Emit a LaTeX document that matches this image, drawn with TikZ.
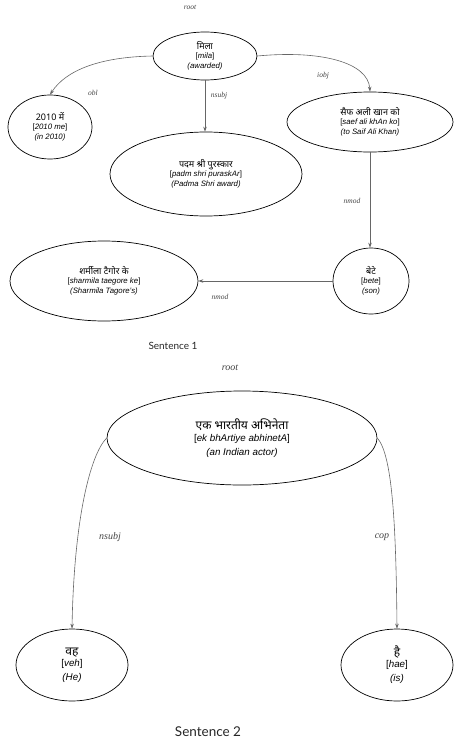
\documentclass[tikz,border=0pt]{standalone}
\usepackage{fontspec}
\setmainfont{Liberation Sans}
\newfontfamily\deva[Script=Devanagari]{Noto Sans}
\newfontfamily\tms{Liberation Serif}
\newfontfamily\lato{Lato}
\usetikzlibrary{arrows.meta,shapes.geometric}
\definecolor{edgegray}{HTML}{666666}
\definecolor{labgray}{HTML}{444444}
\tikzset{
  ell/.style={draw=black, line width=0.7pt, ellipse, inner sep=0pt, align=center},
  small/.style={font=\fontsize{7.8}{10.5}\selectfont},
  big/.style={font=\fontsize{9.8}{14}\selectfont},
  arr/.style={draw=edgegray, line width=0.6pt, -{Stealth[length=5pt,width=3.5pt]}},
  rel/.style={text=labgray, font=\tms\itshape\fontsize{7.5}{8}\selectfont, inner sep=0pt},
  relbig/.style={text=labgray, font=\tms\itshape\fontsize{10}{11}\selectfont, inner sep=0pt},
  dsmall/.style={},
}
\newcommand{\dvs}{\deva\fontsize{9}{11}\selectfont}
\newcommand{\dvb}{\deva\fontsize{12}{15}\selectfont}
\begin{document}
\begin{tikzpicture}[x=1pt,y=-1pt]
\useasboundingbox (0,0) rectangle (457,744);
% Sentence 1
\node[rel] (root1) at (190,7) {root};
\node[ell,small,minimum width=104pt,minimum height=48pt] (mila) at (205,56)
  {{\dvs मिला}\\[-2pt][\textit{mila}]\\\textit{(awarded)}};
\node[ell,small,minimum width=84pt,minimum height=64pt] (n2010) at (50,127)
  {{\dvs 2010 में}\\[-2pt][\textit{2010 me}]\\\textit{(in 2010)}};
\node[ell,small,minimum width=192pt,minimum height=84pt] (padm) at (206,174)
  {{\dvs पदम श्री पुरस्कार}\\[-2pt][\textit{padm shri puraskAr}]\\\textit{(Padma Shri award)}};
\node[ell,small,minimum width=166pt,minimum height=60pt] (saef) at (370,122)
  {{\dvs सैफ अली खान को}\\[-2pt][\textit{saef ali khAn ko}]\\\textit{(to Saif Ali Khan)}};
\node[ell,small,minimum width=76pt,minimum height=66pt] (bete) at (371,281)
  {{\dvs बेटे}\\[-2pt][\textit{bete}]\\\textit{(son)}};
\node[ell,small,minimum width=188pt,minimum height=80pt] (sharm) at (104,281)
  {{\dvs शर्मीला टैगोर के}\\[-2pt][\textit{sharmila taegore ke}]\\\textit{(Sharmila Tagore's)}};

\draw[arr] (mila.west) .. controls (100,57) and (66,70) .. (n2010.north);
\draw[arr] (mila.south) -- (mila.south |- padm.north);
\draw[arr] (mila.east) .. controls (320,50) and (368,62) .. (saef.north);
\draw[arr] (saef.south) -- (saef.south |- bete.north);
\draw[arr] (bete.west) -- (sharm.east);

\node[rel] (obl) at (93,93) {obl};
\node[rel] (nsubj1) at (219,96) {nsubj};
\node[rel] (iobj) at (323,76) {iobj};
\node[rel] (nmod1) at (352,201) {nmod};
\node[rel] (nmod2) at (220,297) {nmod};
\node[font=\lato\fontsize{10}{12}\selectfont, text=black!85] (s1) at (173,346) {Sentence 1};

% Sentence 2
\node[relbig] (root2) at (230,368) {root};
\node[ell,big,minimum width=270pt,minimum height=94pt] (actor) at (242,438)
  {{\dvb एक भारतीय अभिनेता}\\[-2pt][\textit{ek bhArtiye abhinetA}]\\\textit{(an Indian actor)}};
\node[ell,big,minimum width=112pt,minimum height=72pt] (veh) at (72,665)
  {{\dvb वह}\\[-3pt][\textit{veh}]\\\textit{(He)}};
\node[ell,big,minimum width=112pt,minimum height=72pt] (hae) at (397,665)
  {{\dvb है}\\[-3pt][\textit{hae}]\\\textit{(is)}};

\draw[arr] (actor.west) .. controls (90,455) and (74,520) .. (veh.north);
\draw[arr] (actor.east) .. controls (392,455) and (396,520) .. (hae.north);

\node[relbig] (nsubj2) at (110,537) {nsubj};
\node[relbig] (cop) at (382,537) {cop};
\node[font=\lato\fontsize{13.5}{15}\selectfont, text=black!85] (s2) at (208,732) {Sentence 2};
\end{tikzpicture}
\end{document}
